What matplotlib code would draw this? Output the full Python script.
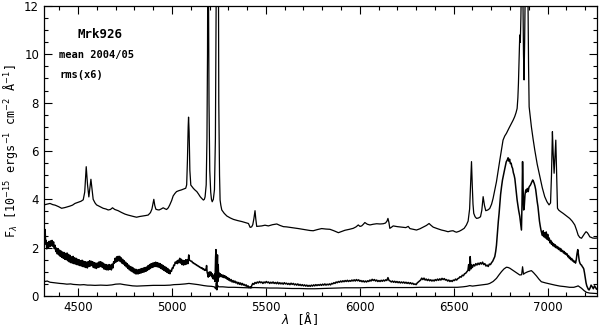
import matplotlib
matplotlib.use("Agg")
import matplotlib.pyplot as plt
from matplotlib.ticker import MultipleLocator

# mean spectrum 2004/05
mean_wl = [4318, 4335, 4350, 4365, 4377, 4395, 4412, 4430, 4456, 4470, 4483, 4500, 4515, 4527, 4535,
           4543, 4550, 4557, 4563, 4568, 4574, 4580, 4590, 4598, 4615, 4633, 4648, 4660, 4672, 4683,
           4695, 4713, 4730, 4749, 4765, 4784, 4800, 4811, 4828, 4846, 4860, 4873, 4885, 4893, 4898,
           4903, 4908, 4914, 4922, 4931, 4942, 4953, 4962, 4971, 4980, 4988, 4998, 5006, 5015, 5024,
           5037, 5050, 5063, 5073, 5078, 5082, 5086, 5088, 5091, 5095, 5100, 5107, 5114, 5123, 5132,
           5141, 5150, 5158, 5167, 5172, 5176, 5182, 5186, 5189, 5191, 5194, 5197, 5201, 5206, 5210,
           5214, 5220, 5226, 5231, 5235, 5238, 5242, 5245, 5249, 5253, 5256, 5260, 5265, 5278, 5292,
           5310, 5327, 5350, 5372, 5390, 5407, 5416, 5424, 5430, 5436, 5442, 5446, 5451, 5465, 5478,
           5495, 5513, 5535, 5558, 5575, 5593, 5610, 5629, 5650, 5673, 5695, 5717, 5735, 5752, 5775,
           5797, 5820, 5841, 5862, 5886, 5903, 5921, 5945, 5965, 5980, 5992, 6001, 6010, 6018, 6027,
           6040, 6054, 6072, 6090, 6108, 6125, 6137, 6145, 6150, 6155, 6160, 6168, 6178, 6200, 6223,
           6245, 6258, 6267, 6285, 6302, 6320, 6338, 6355, 6369, 6380, 6391, 6412, 6435, 6452, 6470,
           6485, 6497, 6507, 6515, 6530, 6542, 6556, 6568, 6577, 6585, 6591, 6595, 6599, 6603, 6607,
           6614, 6622, 6633, 6643, 6650, 6657, 6664, 6671, 6682, 6692, 6702, 6710, 6719, 6728, 6737,
           6746, 6755, 6763, 6772, 6781, 6795, 6808, 6817, 6825, 6832, 6838, 6842, 6845, 6849, 6852,
           6855, 6858, 6863, 6868, 6872, 6875, 6878, 6883, 6890, 6895, 6899, 6902, 6908, 6914, 6923,
           6932, 6945, 6959, 6972, 6985, 6997, 7008, 7016, 7021, 7026, 7030, 7035, 7040, 7044, 7048,
           7053, 7060, 7070, 7083, 7100, 7118, 7132, 7145, 7155, 7163, 7172, 7181, 7190, 7198, 7205,
           7212, 7218, 7225, 7240, 7252, 7266]
mean_fx = [3.77, 3.80, 3.83, 3.78, 3.76, 3.70, 3.63, 3.66, 3.72, 3.76, 3.83, 3.88, 3.92, 3.98, 4.30,
           5.35, 4.60, 4.10, 4.50, 4.83, 4.40, 4.00, 3.85, 3.77, 3.70, 3.63, 3.60, 3.56, 3.58, 3.65,
           3.58, 3.53, 3.46, 3.39, 3.35, 3.31, 3.28, 3.26, 3.29, 3.31, 3.33, 3.35, 3.45, 3.60, 3.80,
           4.00, 3.75, 3.59, 3.57, 3.56, 3.60, 3.65, 3.61, 3.58, 3.65, 3.77, 3.95, 4.14, 4.24, 4.32,
           4.36, 4.39, 4.43, 4.46, 4.60, 5.60, 7.00, 7.40, 6.80, 5.20, 4.59, 4.52, 4.45, 4.38, 4.32,
           4.22, 4.11, 4.04, 3.97, 4.00, 4.10, 4.60, 6.50, 10.0, 16.0, 13.0, 8.00, 5.20, 4.30, 4.00,
           3.90, 4.00, 4.40, 6.50, 12.0, 25.0, 30.0, 20.0, 8.00, 5.00, 3.97, 3.75, 3.56, 3.42, 3.31,
           3.23, 3.17, 3.12, 3.08, 3.04, 3.00, 2.84, 2.86, 2.95, 3.20, 3.53, 3.20, 2.88, 2.89, 2.90,
           2.93, 2.90, 2.95, 2.98, 2.92, 2.87, 2.86, 2.84, 2.82, 2.79, 2.76, 2.73, 2.71, 2.70, 2.75,
           2.79, 2.77, 2.76, 2.70, 2.62, 2.67, 2.72, 2.76, 2.80, 2.86, 2.94, 2.88, 2.90, 2.96, 3.04,
           2.97, 2.94, 2.97, 2.99, 2.98, 2.99, 3.02, 3.10, 3.21, 3.05, 2.80, 2.84, 2.90, 2.87, 2.85,
           2.83, 2.88, 2.79, 2.76, 2.73, 2.78, 2.85, 2.92, 3.00, 2.92, 2.85, 2.79, 2.73, 2.70, 2.66,
           2.69, 2.70, 2.66, 2.64, 2.68, 2.73, 2.80, 2.94, 3.10, 3.60, 4.80, 5.56, 4.60, 3.80, 3.42,
           3.28, 3.21, 3.23, 3.28, 3.55, 4.11, 3.75, 3.53, 3.56, 3.62, 3.80, 4.04, 4.38, 4.73, 5.18,
           5.63, 6.05, 6.45, 6.62, 6.73, 6.95, 7.14, 7.28, 7.42, 7.58, 7.76, 8.20, 8.79, 10.0, 10.8,
           10.5, 11.5, 14.0, 13.0, 10.0, 8.94, 10.5, 14.0, 15.0, 13.0, 9.50, 7.83, 7.40, 7.00, 6.50,
           6.04, 5.45, 4.94, 4.48, 4.11, 3.90, 3.77, 3.85, 5.00, 6.80, 5.90, 5.08, 5.80, 6.45, 5.20,
           3.63, 3.55, 3.49, 3.42, 3.32, 3.21, 3.09, 2.94, 2.72, 2.52, 2.42, 2.39, 2.50, 2.59, 2.66,
           2.62, 2.55, 2.45, 2.40, 2.39, 2.40]

# rms spectrum (x6)
rms6_wl = [4318, 4321, 4324, 4327, 4330, 4333, 4337, 4341, 4345, 4349, 4353, 4357, 4361, 4365, 4369,
           4373, 4377, 4381, 4385, 4389, 4393, 4397, 4401, 4405, 4409, 4413, 4417, 4421, 4425, 4429,
           4433, 4437, 4441, 4445, 4449, 4453, 4457, 4461, 4465, 4469, 4473, 4477, 4481, 4485, 4489,
           4493, 4497, 4501, 4505, 4509, 4513, 4517, 4521, 4525, 4529, 4533, 4537, 4541, 4545, 4549,
           4553, 4557, 4561, 4565, 4569, 4573, 4577, 4581, 4585, 4589, 4593, 4597, 4601, 4605, 4609,
           4613, 4617, 4621, 4625, 4629, 4633, 4637, 4641, 4645, 4649, 4653, 4657, 4661, 4665, 4669,
           4673, 4677, 4681, 4685, 4689, 4693, 4697, 4701, 4705, 4709, 4713, 4717, 4721, 4725, 4729,
           4733, 4737, 4741, 4745, 4749, 4753, 4757, 4761, 4765, 4769, 4773, 4777, 4781, 4785, 4789,
           4793, 4797, 4801, 4805, 4809, 4813, 4817, 4821, 4825, 4829, 4833, 4837, 4841, 4845, 4849,
           4853, 4857, 4861, 4865, 4869, 4873, 4877, 4881, 4885, 4889, 4893, 4897, 4901, 4905, 4909,
           4913, 4917, 4921, 4925, 4929, 4933, 4937, 4941, 4945, 4949, 4953, 4957, 4961, 4965, 4969,
           4973, 4977, 4981, 4985, 4989, 4993, 4997, 5001, 5005, 5009, 5013, 5017, 5021, 5025, 5029,
           5033, 5037, 5041, 5045, 5049, 5053, 5057, 5061, 5065, 5069, 5073, 5077, 5081, 5085, 5089,
           5093, 5097, 5101, 5105, 5109, 5113, 5117, 5121, 5125, 5129, 5133, 5137, 5141, 5145, 5149,
           5153, 5157, 5161, 5165, 5169, 5173, 5177, 5181, 5184, 5187, 5190, 5193, 5196, 5199, 5202,
           5205, 5208, 5211, 5214, 5217, 5220, 5223, 5226, 5229, 5232, 5234, 5236, 5238, 5240, 5242,
           5244, 5246, 5248, 5251, 5254, 5257, 5261, 5265, 5269, 5273, 5277, 5281, 5285, 5289, 5293,
           5297, 5301, 5305, 5310, 5315, 5320, 5325, 5330, 5335, 5340, 5345, 5350, 5355, 5360, 5365,
           5370, 5375, 5380, 5385, 5390, 5395, 5400, 5405, 5410, 5415, 5420, 5425, 5430, 5436, 5442,
           5448, 5454, 5460, 5466, 5472, 5478, 5484, 5490, 5496, 5502, 5508, 5514, 5520, 5526, 5532,
           5538, 5544, 5550, 5556, 5562, 5568, 5574, 5580, 5586, 5592, 5598, 5604, 5610, 5616, 5622,
           5628, 5634, 5640, 5646, 5652, 5658, 5664, 5670, 5676, 5682, 5688, 5694, 5700, 5706, 5712,
           5718, 5724, 5730, 5736, 5742, 5748, 5754, 5760, 5766, 5772, 5778, 5784, 5790, 5796, 5802,
           5808, 5814, 5820, 5826, 5832, 5838, 5844, 5850, 5856, 5862, 5868, 5874, 5880, 5886, 5892,
           5898, 5904, 5910, 5916, 5922, 5928, 5934, 5940, 5946, 5952, 5958, 5964, 5970, 5976, 5982,
           5988, 5994, 6000, 6006, 6012, 6018, 6024, 6030, 6036, 6042, 6048, 6054, 6060, 6066, 6072,
           6078, 6084, 6090, 6096, 6102, 6108, 6114, 6120, 6126, 6132, 6138, 6144, 6150, 6156, 6162,
           6168, 6174, 6180, 6186, 6192, 6198, 6204, 6210, 6216, 6222, 6228, 6234, 6240, 6246, 6252,
           6258, 6264, 6270, 6276, 6282, 6288, 6294, 6300, 6306, 6312, 6318, 6324, 6330, 6336, 6342,
           6348, 6354, 6360, 6366, 6372, 6378, 6384, 6390, 6396, 6402, 6408, 6414, 6420, 6426, 6432,
           6438, 6444, 6450, 6456, 6462, 6468, 6474, 6480, 6486, 6492, 6498, 6504, 6510, 6516, 6522,
           6528, 6534, 6540, 6546, 6552, 6558, 6564, 6570, 6576, 6580, 6584, 6588, 6592, 6596, 6600,
           6606, 6612, 6618, 6624, 6630, 6636, 6642, 6648, 6654, 6660, 6666, 6672, 6678, 6684, 6690,
           6696, 6702, 6708, 6714, 6719, 6724, 6728, 6733, 6738, 6742, 6746, 6750, 6755, 6760, 6765,
           6770, 6775, 6780, 6785, 6790, 6794, 6798, 6802, 6806, 6810, 6814, 6818, 6822, 6826, 6830,
           6834, 6838, 6842, 6846, 6849, 6852, 6855, 6858, 6861, 6864, 6867, 6870, 6873, 6876, 6880,
           6884, 6888, 6892, 6897, 6901, 6905, 6909, 6913, 6917, 6921, 6925, 6929, 6933, 6937, 6941,
           6945, 6949, 6953, 6957, 6961, 6965, 6969, 6973, 6977, 6981, 6985, 6989, 6993, 6997, 7001,
           7005, 7009, 7013, 7017, 7021, 7025, 7029, 7033, 7037, 7041, 7045, 7049, 7053, 7057, 7061,
           7065, 7069, 7073, 7077, 7081, 7085, 7089, 7093, 7097, 7101, 7105, 7109, 7113, 7117, 7121,
           7125, 7129, 7133, 7137, 7141, 7145, 7149, 7153, 7157, 7161, 7165, 7169, 7173, 7177, 7181,
           7185, 7189, 7193, 7197, 7201, 7205, 7209, 7213, 7217, 7221, 7226, 7232, 7238, 7244, 7250,
           7256, 7261, 7266]
rms6_fx = [2.90, 2.35, 2.75, 2.15, 2.30, 1.95, 2.20, 1.98, 2.26, 2.04, 2.28, 2.08, 2.30, 2.06, 2.24,
           1.96, 2.10, 1.84, 1.98, 1.74, 1.96, 1.70, 1.90, 1.64, 1.86, 1.60, 1.82, 1.56, 1.80, 1.52,
           1.76, 1.50, 1.78, 1.46, 1.72, 1.41, 1.68, 1.38, 1.62, 1.36, 1.64, 1.34, 1.58, 1.32, 1.56,
           1.30, 1.52, 1.28, 1.50, 1.26, 1.46, 1.24, 1.48, 1.22, 1.44, 1.20, 1.42, 1.18, 1.40, 1.16,
           1.42, 1.22, 1.46, 1.24, 1.44, 1.26, 1.42, 1.18, 1.38, 1.16, 1.36, 1.14, 1.36, 1.18, 1.40,
           1.20, 1.42, 1.22, 1.40, 1.18, 1.36, 1.12, 1.32, 1.10, 1.30, 1.08, 1.28, 1.08, 1.30, 1.10,
           1.28, 1.08, 1.32, 1.16, 1.42, 1.36, 1.56, 1.40, 1.62, 1.44, 1.64, 1.46, 1.64, 1.42, 1.58,
           1.36, 1.52, 1.32, 1.46, 1.26, 1.40, 1.20, 1.34, 1.14, 1.28, 1.08, 1.22, 1.04, 1.20, 1.00,
           1.16, 0.96, 1.12, 0.92, 1.10, 0.91, 1.08, 0.92, 1.10, 0.94, 1.12, 0.96, 1.14, 0.98, 1.16,
           1.00, 1.18, 1.02, 1.20, 1.06, 1.26, 1.10, 1.30, 1.14, 1.34, 1.18, 1.36, 1.20, 1.38, 1.22,
           1.40, 1.22, 1.38, 1.20, 1.36, 1.18, 1.34, 1.14, 1.30, 1.10, 1.26, 1.06, 1.22, 1.02, 1.18,
           0.98, 1.14, 0.94, 1.08, 0.92, 1.06, 1.02, 1.16, 1.14, 1.28, 1.26, 1.40, 1.36, 1.44, 1.34,
           1.48, 1.38, 1.56, 1.36, 1.52, 1.30, 1.48, 1.28, 1.46, 1.30, 1.50, 1.32, 1.50, 1.34, 1.70,
           1.48, 1.46, 1.44, 1.44, 1.38, 1.38, 1.34, 1.34, 1.30, 1.30, 1.26, 1.26, 1.22, 1.22, 1.18,
           1.18, 1.14, 1.16, 1.10, 1.12, 1.06, 1.10, 1.06, 1.26, 0.98, 0.90, 0.78, 0.98, 0.82, 1.00,
           0.86, 0.98, 0.80, 0.92, 0.72, 0.82, 0.70, 0.90, 0.60, 1.60, 1.92, 0.90, 0.46, 1.20, 1.70,
           0.60, 1.30, 0.75, 0.95, 0.82, 0.92, 0.80, 0.88, 0.78, 0.86, 0.76, 0.84, 0.74, 0.80, 0.70,
           0.76, 0.66, 0.72, 0.62, 0.68, 0.58, 0.64, 0.56, 0.62, 0.54, 0.58, 0.50, 0.56, 0.48, 0.54,
           0.46, 0.52, 0.45, 0.48, 0.42, 0.46, 0.38, 0.42, 0.34, 0.38, 0.33, 0.44, 0.52, 0.48, 0.56,
           0.52, 0.58, 0.54, 0.60, 0.55, 0.58, 0.52, 0.58, 0.54, 0.60, 0.55, 0.58, 0.52, 0.57, 0.53,
           0.58, 0.52, 0.56, 0.51, 0.57, 0.50, 0.55, 0.50, 0.54, 0.49, 0.55, 0.50, 0.53, 0.48, 0.52,
           0.47, 0.53, 0.48, 0.52, 0.46, 0.50, 0.45, 0.50, 0.44, 0.48, 0.43, 0.47, 0.42, 0.46, 0.41,
           0.45, 0.40, 0.44, 0.40, 0.45, 0.41, 0.46, 0.42, 0.47, 0.43, 0.47, 0.44, 0.48, 0.44, 0.49,
           0.45, 0.50, 0.45, 0.49, 0.46, 0.50, 0.46, 0.52, 0.50, 0.55, 0.52, 0.58, 0.55, 0.60, 0.57,
           0.62, 0.58, 0.63, 0.59, 0.64, 0.60, 0.65, 0.60, 0.64, 0.61, 0.66, 0.62, 0.67, 0.62, 0.68,
           0.63, 0.67, 0.61, 0.64, 0.59, 0.63, 0.58, 0.62, 0.58, 0.63, 0.60, 0.66, 0.62, 0.69, 0.64,
           0.68, 0.62, 0.66, 0.60, 0.64, 0.60, 0.65, 0.61, 0.66, 0.62, 0.67, 0.64, 0.76, 0.64, 0.62,
           0.58, 0.62, 0.57, 0.61, 0.56, 0.60, 0.55, 0.59, 0.54, 0.58, 0.54, 0.58, 0.53, 0.57, 0.52,
           0.56, 0.51, 0.55, 0.50, 0.53, 0.48, 0.50, 0.47, 0.54, 0.58, 0.62, 0.66, 0.74, 0.68, 0.74,
           0.66, 0.70, 0.64, 0.69, 0.63, 0.67, 0.62, 0.66, 0.62, 0.68, 0.64, 0.70, 0.65, 0.71, 0.66,
           0.73, 0.68, 0.72, 0.66, 0.68, 0.62, 0.66, 0.60, 0.64, 0.60, 0.66, 0.64, 0.70, 0.66, 0.72,
           0.74, 0.80, 0.78, 0.86, 0.84, 0.92, 0.94, 1.00, 1.06, 1.30, 1.05, 1.63, 1.12, 1.28, 1.18,
           1.30, 1.24, 1.34, 1.28, 1.36, 1.30, 1.38, 1.32, 1.40, 1.30, 1.34, 1.24, 1.28, 1.22, 1.32,
           1.30, 1.38, 1.44, 1.54, 1.63, 1.85, 2.10, 2.60, 3.10, 3.42, 3.80, 4.20, 4.52, 4.80, 5.00,
           5.18, 5.36, 5.55, 5.62, 5.72, 5.58, 5.66, 5.48, 5.50, 5.35, 5.28, 5.10, 5.00, 4.85, 4.55,
           4.25, 3.97, 3.75, 3.55, 3.42, 3.30, 3.10, 2.90, 2.73, 3.80, 5.56, 4.40, 3.56, 3.70, 4.20,
           4.39, 4.30, 4.45, 4.32, 4.50, 4.55, 4.59, 4.66, 4.72, 4.80, 4.74, 4.66, 4.55, 4.40, 4.15,
           3.90, 3.70, 3.40, 3.10, 2.90, 2.73, 2.60, 2.50, 2.70, 2.45, 2.62, 2.40, 2.65, 2.35, 2.55,
           2.30, 2.40, 2.20, 2.30, 2.14, 2.22, 2.08, 2.16, 2.04, 2.12, 2.00, 2.06, 1.96, 2.02, 1.92,
           1.98, 1.86, 1.94, 1.84, 1.88, 1.78, 1.84, 1.74, 1.78, 1.70, 1.74, 1.62, 1.66, 1.55, 1.60,
           1.50, 1.55, 1.45, 1.48, 1.40, 1.44, 1.36, 1.50, 1.75, 1.92, 1.70, 1.45, 1.35, 1.30, 1.28,
           1.22, 1.18, 1.12, 0.95, 0.75, 0.55, 0.42, 0.35, 0.28, 0.25, 0.32, 0.45, 0.38, 0.30, 0.42,
           0.35, 0.28, 0.32]

# rms spectrum
rms_wl = [4318, 4325, 4335, 4350, 4370, 4390, 4403, 4420, 4440, 4460, 4474, 4490, 4510, 4530, 4550,
          4565, 4590, 4620, 4653, 4680, 4700, 4724, 4745, 4770, 4790, 4813, 4840, 4870, 4900, 4930,
          4960, 4990, 5010, 5040, 5070, 5090, 5110, 5140, 5170, 5190, 5210, 5225, 5232, 5236, 5239,
          5242, 5248, 5270, 5300, 5330, 5360, 5400, 5440, 5480, 5520, 5560, 5600, 5640, 5680, 5720,
          5760, 5800, 5840, 5880, 5920, 5960, 6000, 6040, 6080, 6120, 6160, 6200, 6240, 6280, 6320,
          6360, 6400, 6440, 6480, 6520, 6550, 6570, 6586, 6600, 6620, 6639, 6660, 6680, 6692, 6710,
          6728, 6742, 6755, 6768, 6781, 6790, 6799, 6812, 6825, 6838, 6852, 6862, 6867, 6872, 6878,
          6888, 6897, 6905, 6914, 6925, 6933, 6941, 6954, 6967, 6990, 7012, 7040, 7066, 7090, 7118,
          7140, 7157, 7163, 7170, 7181, 7195, 7208, 7225, 7245, 7266]
rms_fx = [0.64, 0.60, 0.62, 0.57, 0.55, 0.53, 0.52, 0.51, 0.49, 0.50, 0.48, 0.47, 0.46, 0.47, 0.45,
          0.45, 0.44, 0.45, 0.44, 0.46, 0.49, 0.50, 0.47, 0.44, 0.42, 0.41, 0.42, 0.43, 0.44, 0.44,
          0.44, 0.45, 0.47, 0.48, 0.50, 0.52, 0.50, 0.47, 0.43, 0.41, 0.40, 0.38, 0.30, 0.55, 0.25,
          0.45, 0.38, 0.38, 0.36, 0.36, 0.35, 0.34, 0.35, 0.34, 0.33, 0.33, 0.32, 0.31, 0.31, 0.30,
          0.30, 0.31, 0.32, 0.33, 0.34, 0.34, 0.34, 0.35, 0.35, 0.35, 0.35, 0.35, 0.35, 0.35, 0.36,
          0.36, 0.36, 0.36, 0.36, 0.36, 0.38, 0.40, 0.43, 0.41, 0.43, 0.45, 0.47, 0.49, 0.52, 0.60,
          0.73, 0.88, 1.01, 1.12, 1.19, 1.18, 1.15, 1.08, 1.01, 0.94, 0.87, 0.88, 1.21, 0.90, 0.94,
          0.98, 1.01, 1.03, 1.05, 0.97, 0.90, 0.83, 0.70, 0.59, 0.54, 0.50, 0.45, 0.41, 0.39, 0.36,
          0.36, 0.40, 0.42, 0.38, 0.32, 0.22, 0.15, 0.12, 0.11, 0.10]

x_range = (4318, 7266)
y_range = (0, 12)

fig = plt.figure(figsize=(6.0, 3.29), dpi=100)
ax = fig.add_axes([0.0733, 0.1003, 0.9225, 0.8815])

ax.plot(mean_wl, mean_fx, color="black", lw=0.9)
ax.plot(rms6_wl, rms6_fx, color="black", lw=1.1)
ax.plot(rms_wl, rms_fx, color="black", lw=0.9)

ax.set_xlim(*x_range)
ax.set_ylim(*y_range)

ax.xaxis.set_major_locator(MultipleLocator(500))
ax.xaxis.set_minor_locator(MultipleLocator(100))
ax.yaxis.set_major_locator(MultipleLocator(2))
ax.yaxis.set_minor_locator(MultipleLocator(0.5))
ax.tick_params(which="both", direction="in", top=True, right=True, labelsize=8.5, width=0.8)
ax.tick_params(which="major", length=5.5)
ax.tick_params(which="minor", length=2.8)
for s in ax.spines.values():
    s.set_linewidth(0.9)

mono = "DejaVu Sans Mono"
fig.text(0.5, 0.032, r"$\lambda$ [Å]", family=mono, fontsize=9, ha="center", va="center")
ax.set_ylabel(r"F$_\lambda$ [10$^{-15}$ ergs$^{-1}$ cm$^{-2}$ Å$^{-1}$]", family=mono, fontsize=8.5,
              labelpad=3)

ax.text(4616, 10.8, "Mrk926", family=mono, fontsize=9, fontweight="bold", ha="center", va="center")
ax.text(4398, 9.97, "mean 2004/05", family=mono, fontsize=7.5, fontweight="bold", va="center")
ax.text(4398, 9.14, "rms(x6)", family=mono, fontsize=7.5, fontweight="bold", va="center")

fig.savefig("out.png", dpi=100)
